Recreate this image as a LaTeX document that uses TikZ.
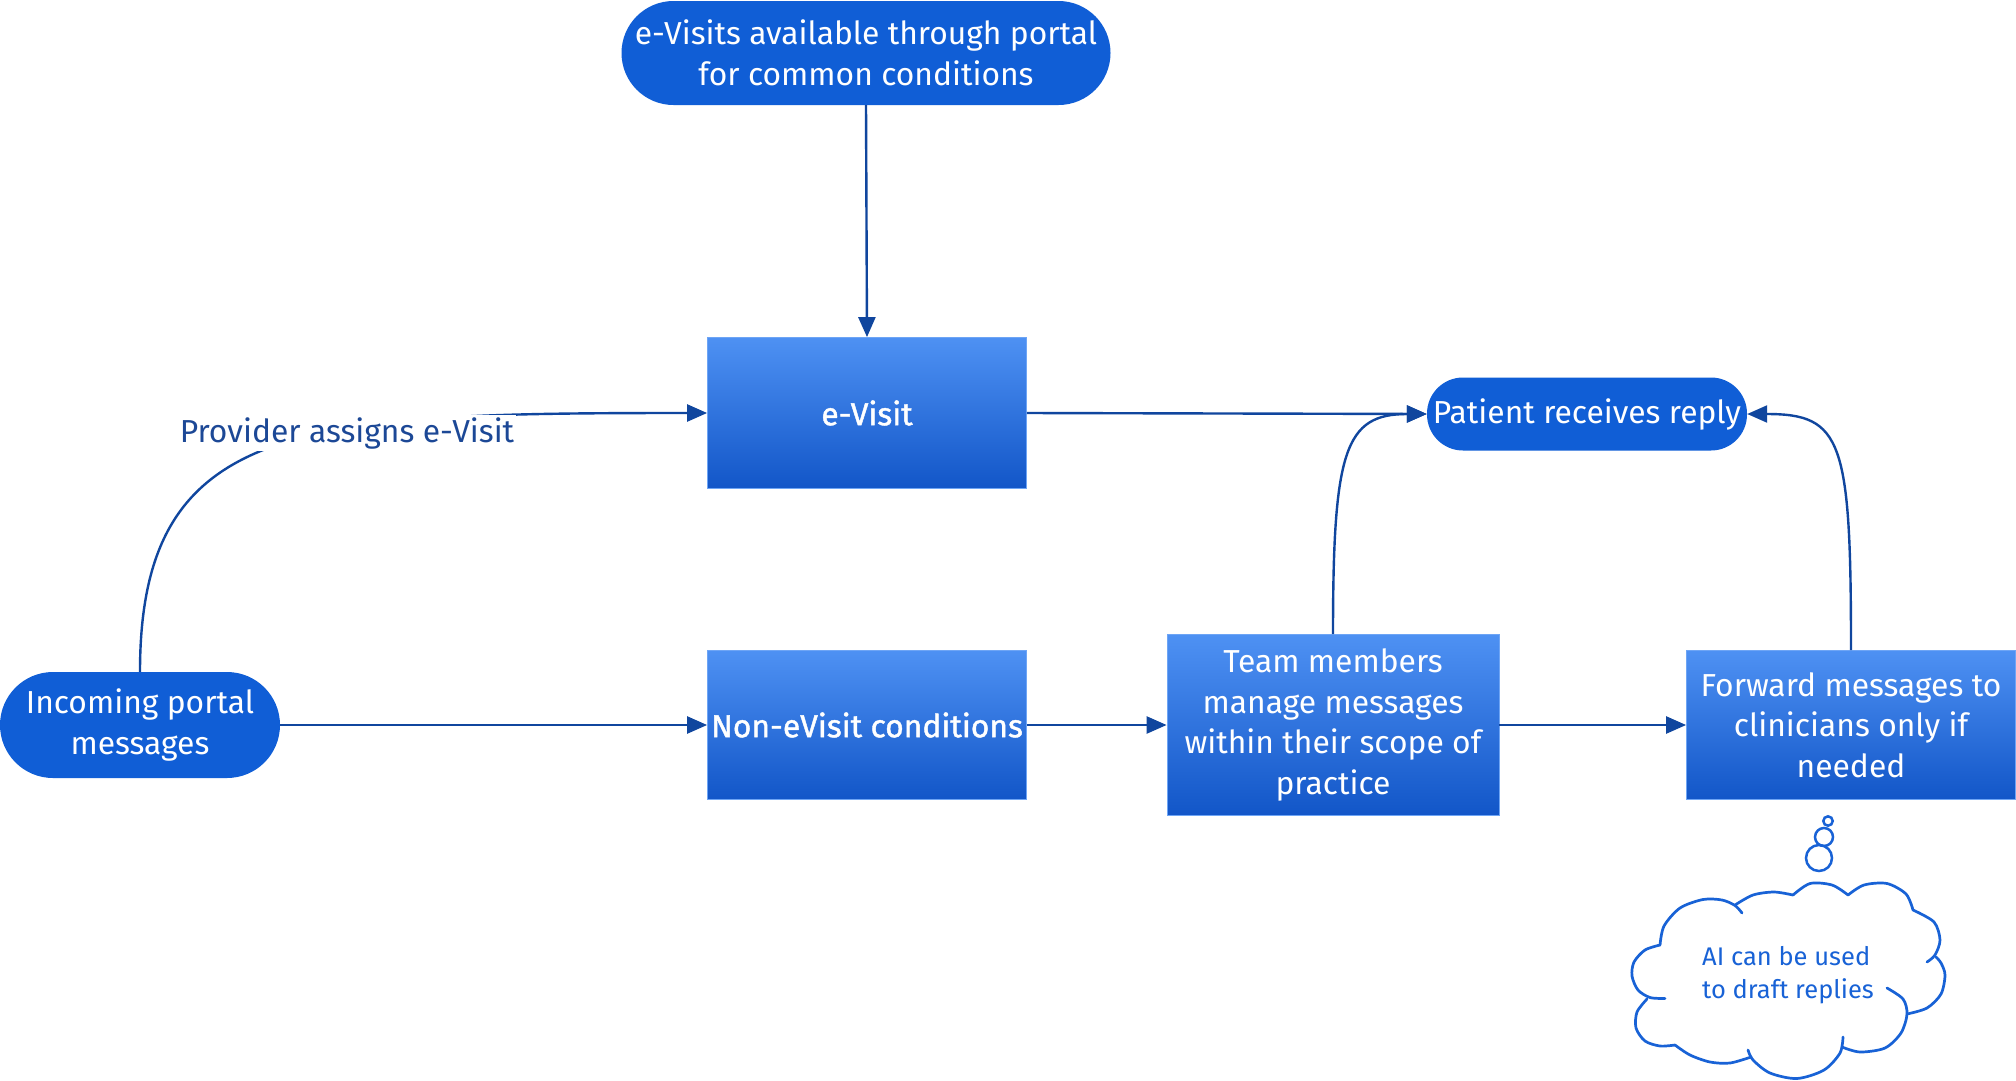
\documentclass[tikz,border=0pt]{standalone}
\usepackage{fontspec}
\setmainfont{Fira Sans}
\newfontfamily\semibf{Fira Sans}[FakeBold=1.3]
\usetikzlibrary{arrows.meta}

\definecolor{pillblue}{RGB}{16,94,214}
\definecolor{boxtop}{RGB}{78,145,243}
\definecolor{boxbot}{RGB}{18,86,200}
\definecolor{boxedge}{RGB}{110,165,245}
\definecolor{linkblue}{RGB}{16,70,158}
\definecolor{labelblue}{RGB}{28,72,150}
\definecolor{cloudblue}{RGB}{24,98,214}

\newcommand\mainsize{\fontsize{31.8}{40.5}\selectfont}
\newcommand\cloudsize{\fontsize{25.5}{33}\selectfont}

\tikzset{
  pill/.style={rectangle, fill=pillblue, text=white, align=center,
    inner sep=0pt, font=\mainsize},
  gradbox/.style={rectangle, top color=boxtop, bottom color=boxbot,
    draw=boxedge, line width=0.8pt, text=white, align=center,
    inner sep=0pt, font=\mainsize},
  link/.style={draw=linkblue, line width=2.4pt,
    -{Triangle[length=20pt,width=17pt]}},
  bubble/.style={draw=cloudblue, line width=2.5pt},
  cloudline/.style={draw=cloudblue, line width=2.7pt, line cap=round, line join=round},
}

\begin{document}
\begin{tikzpicture}[x=1pt,y=-1pt]
\useasboundingbox (0,0) rectangle (2016,1080);
\fill[white] (0,0) rectangle (2016,1080);

% process nodes
\node[pill, minimum width=489pt, minimum height=104pt, rounded corners=52pt]
  (portal) at (866,53) {e-Visits available through portal\\for common conditions};
\node[gradbox, minimum width=319pt, minimum height=151pt]
  (evisit) at (867,413) {\semibf e-Visit};
\node[pill, minimum width=320pt, minimum height=73pt, rounded corners=36pt]
  (reply) at (1587,414) {Patient receives reply};
\node[pill, minimum width=280pt, minimum height=106pt, rounded corners=53pt]
  (incoming) at (140,725) {Incoming portal\\messages};
\node[gradbox, minimum width=319pt, minimum height=149pt]
  (nonev) at (867,725) {\semibf Non-eVisit conditions};
\node[gradbox, minimum width=332pt, minimum height=181pt]
  (team) at (1333,725) {Team members\\manage messages\\within their scope of\\practice};
\node[gradbox, minimum width=329pt, minimum height=149pt]
  (forward) at (1851,725) {Forward messages to\\clinicians only if\\needed};

% thought cloud, one arc per puff (some arcs run on into a small inner curl)
\begin{scope}[cloudline]
  \draw plot[smooth] coordinates {(1742,913) (1735,905.5) (1722,900) (1703,899.5) (1680,908) (1664,926) (1660,945)};
  \draw plot[smooth] coordinates {(1660,945) (1645,950) (1634,962) (1632,976) (1638,990) (1650,997.5) (1665,998.5)};
  \draw plot[smooth] coordinates {(1647,999) (1637,1012) (1636,1028) (1645,1041) (1660,1046) (1675,1045)};
  \draw plot[smooth] coordinates {(1675,1045) (1690,1055) (1710,1062) (1730,1063) (1751,1057)};
  \draw plot[smooth] coordinates {(1748,1050) (1753,1060) (1770,1073) (1797,1078.5) (1824,1070) (1840,1053) (1843,1037)};
  \draw plot[smooth] coordinates {(1842,1047) (1860,1052) (1885,1048) (1901,1033) (1907,1014) (1903,999) (1887,988)};
  \draw plot[smooth] coordinates {(1907,1014) (1927,1008) (1941,994) (1945,975) (1941,963) (1936,957)};
  \draw plot[smooth] coordinates {(1927,962) (1935,955) (1940,940) (1934,922) (1913,910)};
  \draw plot[smooth] coordinates {(1913,910) (1906,894) (1887,883.5) (1864,885) (1848,895)};
  \draw plot[smooth] coordinates {(1848,895) (1832,885) (1810,883.5) (1793,895)};
  \draw plot[smooth] coordinates {(1793,895) (1774,892) (1753,895) (1735,905)};
\end{scope}
\node[text=cloudblue, align=left, font=\cloudsize, inner sep=0pt]
  (ai) at (1788,975) {AI can be used\\to draft replies};
\draw[bubble] (1828,821) circle (4.7pt);
\draw[bubble] (1824,837) circle (9pt);
\draw[bubble] (1819,858) circle (13pt);

% connectors
\draw[link] (portal.south) -- (evisit.north);
\draw[link] (evisit.east) -- (reply.west);
\draw[link] (incoming.east) -- (nonev.west);
\draw[link] (nonev.east) -- (team.west);
\draw[link] (team.east) -- (forward.west);
\draw[link] (incoming.north) .. controls +(0,-252) and +(-407,0) .. (evisit.west);
\node[fill=white, text=labelblue, inner sep=2pt, font=\mainsize]
  (assign) at (347,433) {Provider assigns e-Visit};
\draw[link] (team.north) .. controls +(0,-184) and +(-82,0) .. (reply.west);
\draw[link] (forward.north) .. controls +(0,-210) and +(95,0) .. (reply.east);
\end{tikzpicture}
\end{document}
